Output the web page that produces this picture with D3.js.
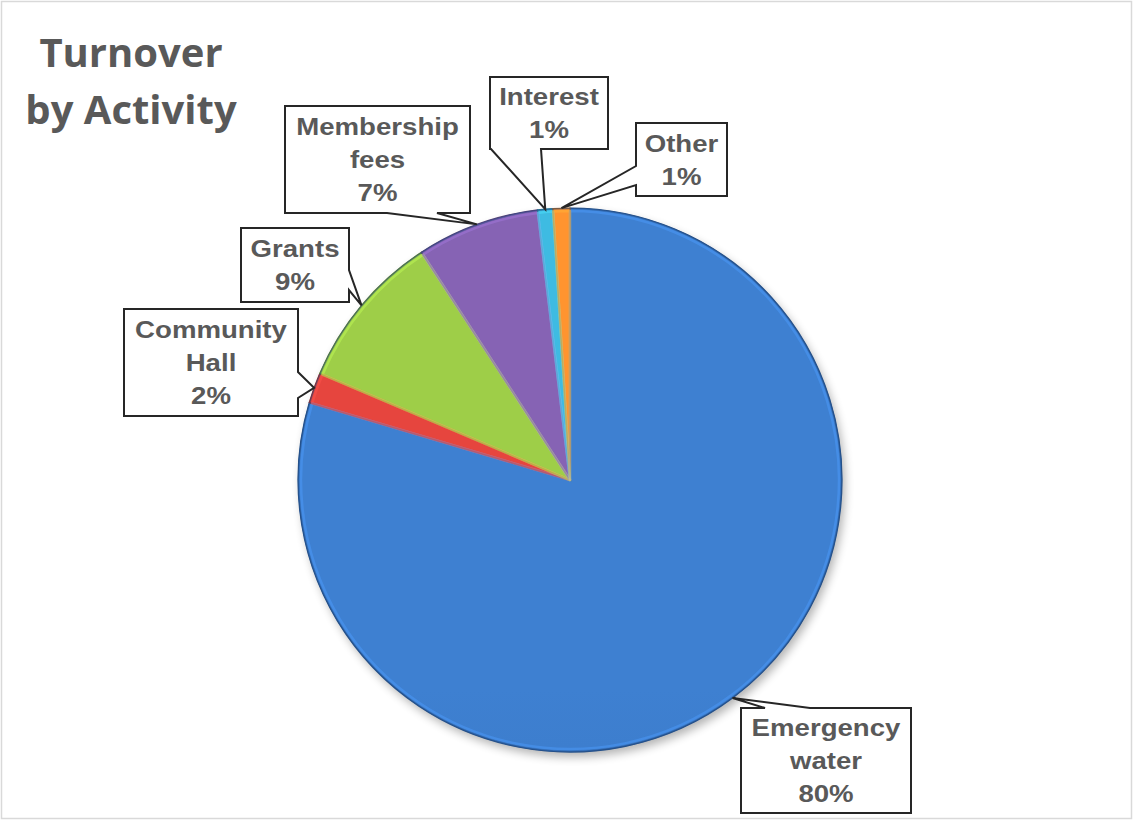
<!DOCTYPE html>
<html>
<head>
<meta charset="utf-8">
<script src="https://cdn.jsdelivr.net/npm/d3@7"></script>
<style>
  html, body { margin: 0; padding: 0; background: #fff; }
  svg { display: block; }
</style>
</head>
<body>
<svg id="chart" width="1134" height="821"></svg>
<script>
// ---- data ----
const categories = ["Emergency water", "Community Hall", "Grants", "Membership fees", "Interest", "Other"];
const values = [79.6, 1.8, 9.4, 7.3, 0.9, 1.0];
const labelLines = [["Emergency", "water", "80%"], ["Community", "Hall", "2%"], ["Grants", "9%"], ["Membership", "fees", "7%"], ["Interest", "1%"], ["Other", "1%"]];
const titleLines = ["Turnover", "by Activity"];
const colors = ["#3a77c3", "#d6403a", "#93c043", "#7d5ca8", "#3aaed2", "#f28a2c"];

// ---- layout (label boxes: [x0,y0,x1,y1], wedge side and base range) ----
const boxes = [
  { b: [741, 708, 911, 813], side: "top", w: [765, 810] },
  { b: [124, 309, 298, 416], side: "right", w: [372, 398] },
  { b: [241, 228, 349, 302], side: "right", w: [270, 290] },
  { b: [285, 106, 470, 213], side: "bottom", w: [387, 437] },
  { b: [490, 77, 608, 149], side: "bottom", w: [491, 541] },
  { b: [636, 123, 727, 196], side: "left", w: [166, 185] }
];

const W = 1134, H = 821;
const cx = 570, cy = 480, R = 272;
const svg = d3.select("#chart");

// border
svg.append("rect").attr("x", 1.5).attr("y", 1.5).attr("width", W - 4).attr("height", H - 4)
  .attr("fill", "#fff").attr("stroke", "#d9d9d9").attr("stroke-width", 1.5);

const defs = svg.append("defs");
const shadow = defs.append("filter").attr("id", "shadow").attr("x", "-20%").attr("y", "-20%").attr("width", "140%").attr("height", "140%");
shadow.append("feGaussianBlur").attr("in", "SourceAlpha").attr("stdDeviation", 5);
shadow.append("feOffset").attr("dx", 3).attr("dy", 5).attr("result", "ob");
shadow.append("feComponentTransfer").append("feFuncA").attr("type", "linear").attr("slope", 0.3);
const m = shadow.append("feMerge");
m.append("feMergeNode");
m.append("feMergeNode").attr("in", "SourceGraphic");

colors.forEach((c, i) => {
  const g = defs.append("linearGradient").attr("id", "grad" + i)
    .attr("gradientUnits", "userSpaceOnUse")
    .attr("x1", cx).attr("y1", cy - R).attr("x2", cx).attr("y2", cy + R);
  g.append("stop").attr("offset", "0%").attr("stop-color", d3.color(c).brighter(0.2));
  g.append("stop").attr("offset", "50%").attr("stop-color", c);
  g.append("stop").attr("offset", "100%").attr("stop-color", d3.color(c).darker(0.3));
});

const pie = d3.pie().sort(null).value(d => d)(values);
const arc = d3.arc().innerRadius(0).outerRadius(R);
const arcInner = d3.arc().innerRadius(0).outerRadius(R - 3);
const tipArc = d3.arc().innerRadius(R).outerRadius(R);

const pg = svg.append("g").attr("transform", `translate(${cx},${cy})`);
pg.append("circle").attr("r", R).attr("fill", "#2d5fa6").attr("filter", "url(#shadow)");
pg.selectAll("path.slice").data(pie).join("path")
  .attr("class", "slice")
  .attr("d", arc)
  .attr("fill", (d, i) => `url(#grad${i})`)
  .attr("stroke", (d, i) => d3.color(colors[i]).darker(0.9))
  .attr("stroke-width", 1.2);
// bevel highlight
pg.selectAll("path.hl").data(pie).join("path")
  .attr("class", "hl")
  .attr("d", arcInner)
  .attr("fill", "none")
  .attr("stroke", (d, i) => d3.color(colors[i]).brighter(0.8))
  .attr("stroke-opacity", 0.45)
  .attr("stroke-width", 2.5)
  .attr("stroke-linejoin", "round");
// dark outer rim
pg.append("circle").attr("r", R - 0.5).attr("fill", "none")
  .attr("stroke", "#1f4a86").attr("stroke-opacity", 0.45).attr("stroke-width", 1.5);

// callouts
function calloutPath(bx, tip) {
  const [x0, y0, x1, y1] = bx.b;
  const [a, b] = bx.w;
  const [tx, ty] = tip;
  let pts;
  if (bx.side === "top") pts = [[x0, y0], [a, y0], [tx, ty], [b, y0], [x1, y0], [x1, y1], [x0, y1]];
  else if (bx.side === "bottom") pts = [[x0, y0], [x1, y0], [x1, y1], [b, y1], [tx, ty], [a, y1], [x0, y1]];
  else if (bx.side === "right") pts = [[x0, y0], [x1, y0], [x1, a], [tx, ty], [x1, b], [x1, y1], [x0, y1]];
  else pts = [[x0, y0], [x1, y0], [x1, y1], [x0, y1], [x0, b], [tx, ty], [x0, a]];
  return d3.line()(pts) + "Z";
}

const lg = svg.append("g");
pie.forEach((d, i) => {
  const c = tipArc.centroid(d);
  const tip = [cx + c[0], cy + c[1]];
  const bx = boxes[i];
  lg.append("path").attr("d", calloutPath(bx, tip))
    .attr("fill", "#fff").attr("stroke", "#262626").attr("stroke-width", 2).attr("stroke-linejoin", "miter");
  const mx = (bx.b[0] + bx.b[2]) / 2, my = (bx.b[1] + bx.b[3]) / 2;
  const lines = labelLines[i];
  lines.forEach((t, k) => {
    const y = my + (k - (lines.length - 1) / 2) * 33 + 8.5;
    lg.append("text")
      .attr("transform", `translate(${mx},${y}) scale(1.15,1)`)
      .attr("text-anchor", "middle")
      .attr("font-family", "'Liberation Sans', Arial, sans-serif")
      .attr("font-weight", "bold")
      .attr("font-size", 24)
      .attr("fill", "#595959")
      .text(t);
  });
});

// title
const titleY = [67, 124];
titleLines.forEach((t, k) => {
  svg.append("text")
    .attr("x", 131).attr("y", titleY[k])
    .attr("text-anchor", "middle")
    .attr("font-family", "'Open Sans', sans-serif")
    .attr("font-weight", "bold")
    .attr("font-size", 40)
    .attr("fill", "#595959")
    .text(t);
});
</script>
</body>
</html>
